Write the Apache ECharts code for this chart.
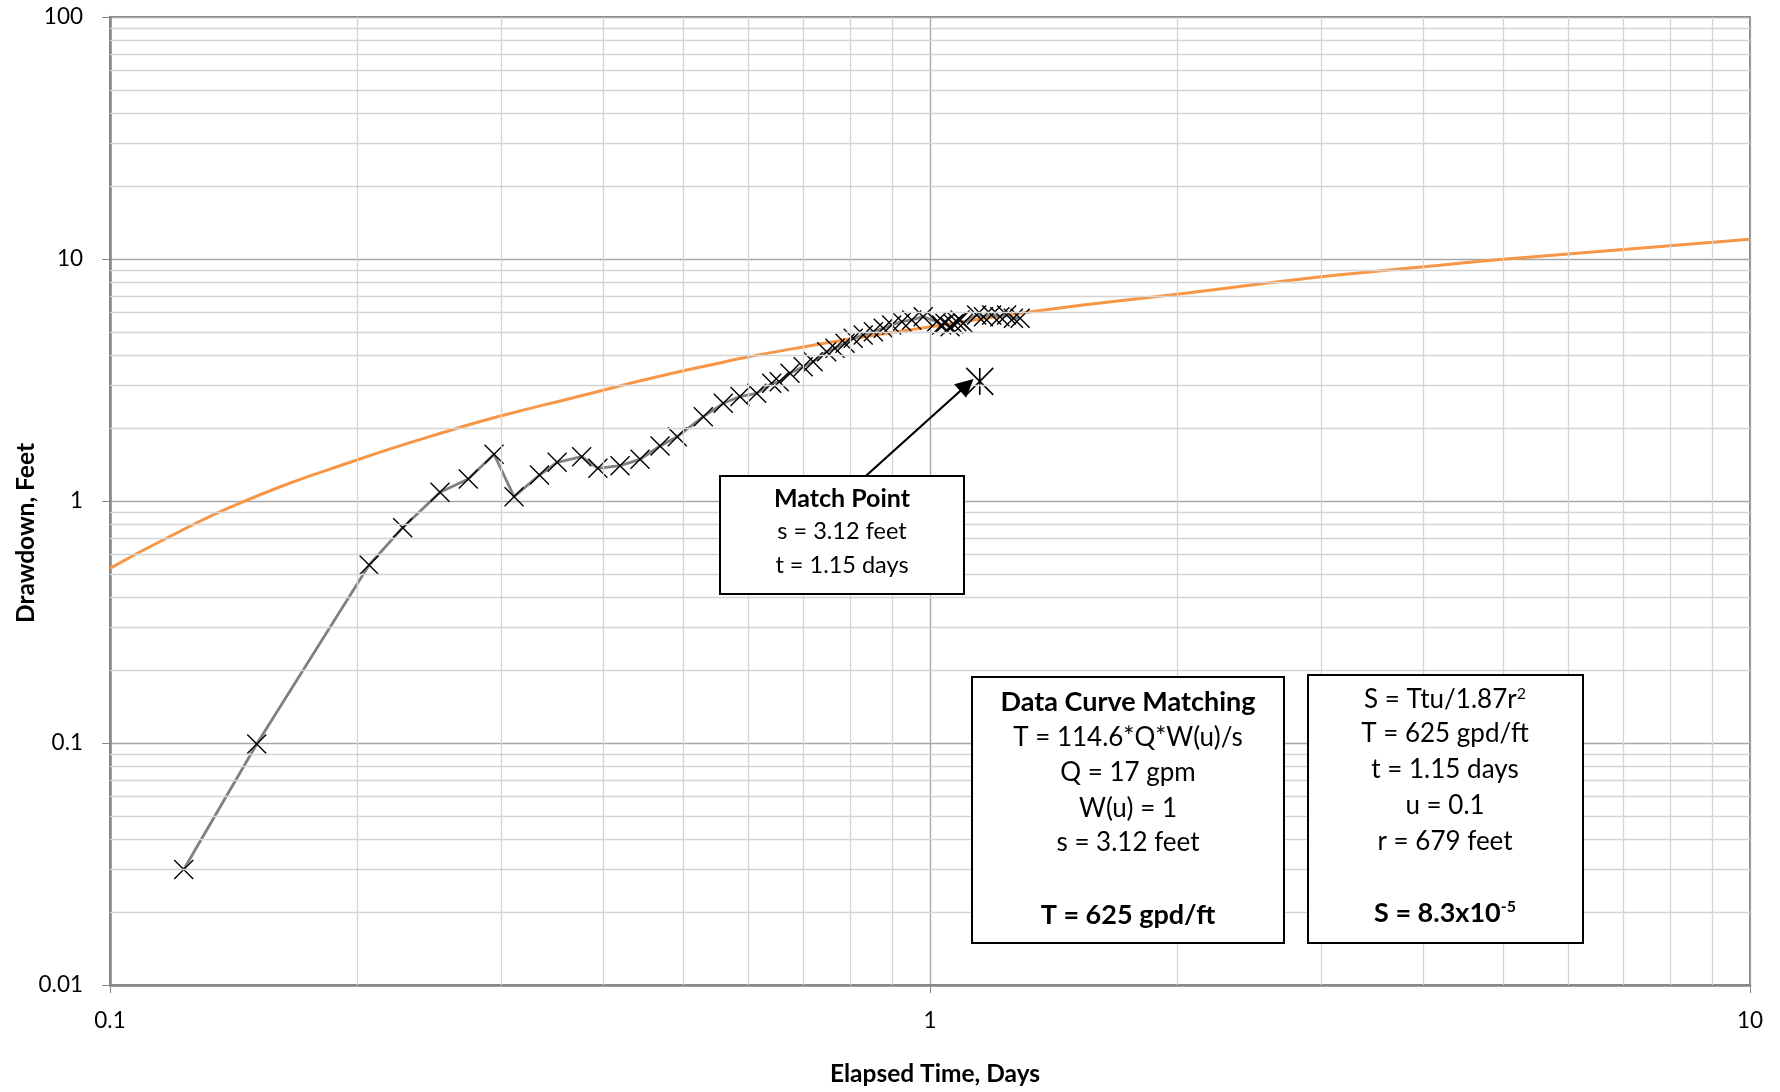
<!DOCTYPE html>
<html><head><meta charset="utf-8">
<script src="https://cdn.jsdelivr.net/npm/echarts@6/dist/echarts.min.js"></script>
<style>html,body{margin:0;padding:0;background:#fff}#c{width:1780px;height:1092px}</style>
</head><body><div id="c"></div>
<script>
// ---- data ----
const xTickValues = [0.1, 1, 10];
const xTickLabels = ['0.1', '1', '10'];
const yTickValues = [0.01, 0.1, 1, 10, 100];
const yTickLabels = ['0.01', '0.1', '1', '10', '100'];
const xMinorGrid = [0.2,0.3,0.4,0.5,0.6,0.7,0.8,0.9,2,3,4,5,6,7,8,9];
const yMinorGrid = [0.02,0.03,0.04,0.05,0.06,0.07,0.08,0.09,0.2,0.3,0.4,0.5,0.6,0.7,0.8,0.9,2,3,4,5,6,7,8,9,20,30,40,50,60,70,80,90];

const timeDays = [0.123,0.151,0.207,0.2275,0.2526,0.2735,0.294,0.311,0.334,0.351,0.376,0.3935,0.4188,0.443,0.4686,0.4918,0.5291,0.5596,0.5865,0.6147,0.6412,0.6549,0.6749,0.7004,0.7203,0.7482,0.7658,0.7876,0.806,0.829,0.853,0.877,0.898,0.924,0.950,0.981,1.019,1.033,1.043,1.058,1.068,1.078,1.088,1.098,1.140,1.162,1.189,1.217,1.240,1.264,1.288];
const drawdownFeet = [0.03,0.099,0.544,0.776,1.086,1.233,1.56,1.042,1.28,1.445,1.524,1.365,1.40,1.487,1.688,1.844,2.23,2.533,2.70,2.786,3.064,3.11,3.37,3.59,3.763,4.14,4.276,4.485,4.70,4.853,5.007,5.17,5.34,5.51,5.60,5.775,5.51,5.34,5.425,5.25,5.39,5.51,5.60,5.425,5.87,5.775,5.87,5.775,5.87,5.69,5.69];

const typeCurveTime = [0.1,0.117,0.145,0.2,0.272,0.3,0.357,0.51,0.7,1.0,1.4,2,3,4,5,10];
const typeCurveDrawdown = [0.527,0.70,0.99,1.477,2.05,2.25,2.61,3.5,4.33,5.25,6.2,7.15,8.45,9.29,9.97,12.06];

const matchTime = [1.15];
const matchDrawdown = [3.12];
const arrowFrom = [0.835, 1.268];
const arrowTo = [1.109, 3.015];

// ---- chart ----
const FONT = 'Lato';
const labelFor = (vals, labs) => v => {
  let best = 0, bd = Infinity;
  vals.forEach((t, i) => { const d = Math.abs(Math.log10(t) - Math.log10(v)); if (d < bd) { bd = d; best = i; } });
  return bd < 0.01 ? labs[best] : '';
};
const axisGray = '#868686';

const chart = echarts.init(document.getElementById('c'), null, {renderer: 'canvas'});

function textEl(x, y, text, size, bold, extra) {
  return {
    type: 'text', x: x, y: y, z: 101,
    style: Object.assign({
      text: text,
      font: (bold ? 'bold ' : '') + size + 'px ' + FONT,
      fill: '#000',
      align: 'center', verticalAlign: 'middle',
      textAlign: 'center', textVerticalAlign: 'middle'
    }, extra || {})
  };
}
function boxEl(x, y, w, h) {
  return { type: 'rect', z: 100, shape: {x: x, y: y, width: w, height: h},
    style: {fill: '#fff', stroke: '#000', lineWidth: 2} };
}
const supRich = {
  sup: { fontSize: 16, fontFamily: FONT, verticalAlign: 'top', padding: [0, 0, 12, 0] },
  supb: { fontSize: 16, fontWeight: 'bold', fontFamily: FONT, verticalAlign: 'top', padding: [0, 0, 12, 0] }
};

const option = {
  animation: false,
  backgroundColor: '#fff',
  grid: { left: 110, right: 30, top: 17, bottom: 107, show: true, borderColor: axisGray, borderWidth: 2, containLabel: false },
  xAxis: {
    type: 'log', logBase: 10, min: 0.1, max: 10,
    axisLine: { show: true, onZero: false, lineStyle: { color: axisGray, width: 2.5 } },
    axisTick: { show: true, length: 8, lineStyle: { color: axisGray, width: 1 } },
    axisLabel: { margin: 24, fontFamily: FONT, fontSize: 22.5, color: '#000', showMinLabel: true, showMaxLabel: true,
      formatter: labelFor(xTickValues, xTickLabels) },
    splitLine: { show: true, lineStyle: { color: '#a6a6a6', width: 1.3 } }
  },
  yAxis: {
    type: 'log', logBase: 10, min: 0.01, max: 100,
    axisLine: { show: true, onZero: false, lineStyle: { color: axisGray, width: 2.5 } },
    axisTick: { show: true, length: 8, lineStyle: { color: axisGray, width: 1 } },
    axisLabel: { margin: 27, fontFamily: FONT, fontSize: 22.5, color: '#000', showMinLabel: true, showMaxLabel: true,
      formatter: labelFor(yTickValues, yTickLabels) },
    splitLine: { show: true, lineStyle: { color: '#a6a6a6', width: 1.3 } }
  },
  series: [
    {
      name: 'grid', type: 'line', data: [], z: 1, silent: true,
      markLine: {
        silent: true, symbol: 'none', label: { show: false },
        lineStyle: { color: '#d4d4d4', width: 1.3, type: 'solid' },
        emphasis: { disabled: true },
        data: xMinorGrid.map(v => ({ xAxis: v })).concat(yMinorGrid.map(v => ({ yAxis: v })))
      }
    },
    {
      name: 'Type curve', type: 'line', z: 2, smooth: 0.5, showSymbol: false,
      data: typeCurveTime.map((t, i) => [t, typeCurveDrawdown[i]]),
      lineStyle: { color: '#F79646', width: 3 }
    },
    {
      name: 'Observed', type: 'line', z: 3, showAllSymbol: true,
      symbol: 'path://M0,0L10,10M10,0L0,10', symbolSize: 19,
      data: timeDays.map((t, i) => [t, drawdownFeet[i]]),
      lineStyle: { color: '#808080', width: 2.8 },
      itemStyle: { color: 'rgba(0,0,0,0)', borderColor: '#000', borderWidth: 1.4 }
    },
    {
      name: 'Match', type: 'scatter', z: 4,
      symbol: 'path://M0,0L10,10M10,0L0,10M5,0L5,10', symbolSize: 27,
      data: matchTime.map((t, i) => [t, matchDrawdown[i]]),
      itemStyle: { color: 'rgba(0,0,0,0)', borderColor: '#000', borderWidth: 1.6, opacity: 1 },
      emphasis: { disabled: true },
      markLine: {
        silent: true, symbol: ['none', 'path://M5,0L10,14L0,14Z'], symbolSize: 18,
        label: { show: false },
        itemStyle: { color: '#000' },
        lineStyle: { color: '#000', width: 2.2, type: 'solid' },
        data: [[{ coord: arrowFrom }, { coord: arrowTo }]]
      }
    }
  ],
  graphic: [
    textEl(935, 1074, 'Elapsed Time, Days', 24.5, true),
    { type: 'text', x: 26, y: 533, rotation: Math.PI / 2, z: 101,
      style: { text: 'Drawdown, Feet', font: 'bold 24.5px ' + FONT, fill: '#000',
        align: 'center', verticalAlign: 'middle', textAlign: 'center', textVerticalAlign: 'middle' } },

    boxEl(720, 476, 244, 118),
    textEl(842, 499, 'Match Point', 25, true),
    textEl(842, 531, 's = 3.12 feet', 23.5, false),
    textEl(842, 565, 't = 1.15 days', 23.5, false),

    boxEl(972, 677, 312, 266),
    textEl(1128, 702, 'Data Curve Matching', 27, true),
    textEl(1128, 738, 'T = 114.6*Q*W(u)/s', 26, false),
    textEl(1128, 773, 'Q = 17 gpm', 26, false),
    textEl(1128, 809, 'W(u) = 1', 26, false),
    textEl(1128, 843, 's = 3.12 feet', 26, false),
    textEl(1128, 915, 'T = 625 gpd/ft', 27, true),

    boxEl(1308, 675, 275, 268),
    textEl(1445, 700, 'S = Ttu/1.87r{sup|2}', 26, false, { rich: supRich }),
    textEl(1445, 734, 'T = 625 gpd/ft', 26, false),
    textEl(1445, 770, 't = 1.15 days', 26, false),
    textEl(1445, 806, 'u = 0.1', 26, false),
    textEl(1445, 842, 'r = 679 feet', 26, false),
    textEl(1445, 913, 'S = 8.3x10{supb|-5}', 27, true, { rich: supRich })
  ]
};
chart.setOption(option);
</script>
</body></html>
